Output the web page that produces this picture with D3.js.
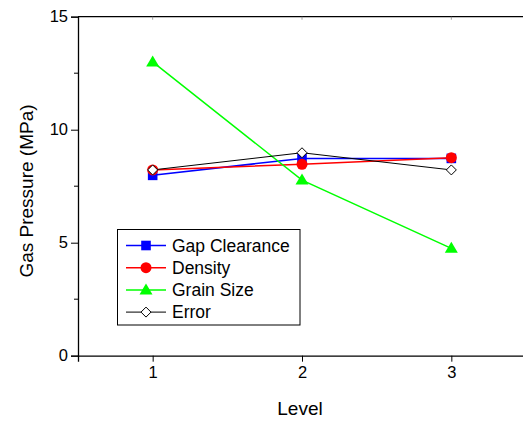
<!DOCTYPE html>
<html>
<head>
<meta charset="utf-8">
<script src="https://cdn.jsdelivr.net/npm/d3@7"></script>
<style>
  body { margin: 0; background: #fff; }
  svg { display: block; font-family: Arial, "Liberation Sans", sans-serif; }
</style>
</head>
<body>
<svg id="chart" width="523" height="421"></svg>
<script>
const levels = [1, 2, 3];
const gapClearance = [7.98, 8.73, 8.73];
const density = [8.22, 8.47, 8.76];
const grainSize = [13.0, 7.77, 4.75];
const errorVals = [8.22, 8.98, 8.22];
const yTicks = [0, 5, 10, 15];

const series = [
  { name: "Gap Clearance", values: gapClearance, color: "#0000ff", shape: "square", width: 1.5 },
  { name: "Density", values: density, color: "#ff0000", shape: "circle", width: 1.5 },
  { name: "Grain Size", values: grainSize, color: "#00ff00", shape: "triangle", width: 1.5 },
  { name: "Error", values: errorVals, color: "#000000", shape: "diamond", width: 1 }
];

const svg = d3.select("#chart");
const x = d3.scaleLinear().domain([0.5, 3.5]).range([78, 526]);
const y = d3.scaleLinear().domain([0, 15]).range([355.7, 16.7]);

// top frame line
svg.append("line").attr("x1", 78).attr("x2", 523).attr("y1", y(15)).attr("y2", y(15))
  .attr("stroke", "#000").attr("stroke-width", 1.3);

// left axis
const yAxis = svg.append("g").attr("transform", "translate(78,0)")
  .call(d3.axisLeft(y).tickValues(yTicks).tickSize(7).tickPadding(3));
yAxis.append("g").selectAll("line").data([2.5, 7.5, 12.5]).enter().append("line")
  .attr("x1", -4).attr("x2", 0).attr("y1", d => y(d)).attr("y2", d => y(d))
  .attr("stroke", "#000");

// bottom axis
const xAxis = svg.append("g").attr("transform", `translate(0,${y(0)})`)
  .call(d3.axisBottom(x).tickValues(levels).tickFormat(d3.format("d")).tickSize(6).tickPadding(5));

// top ticks (inward)
svg.append("g").selectAll("line").data(levels).enter().append("line")
  .attr("x1", d => x(d)).attr("x2", d => x(d)).attr("y1", y(15)).attr("y2", y(15) + 3)
  .attr("stroke", "#888").attr("stroke-width", 0.8);

[yAxis, xAxis].forEach(a => {
  a.select(".domain").attr("stroke-width", 1.3);
  a.selectAll(".tick text").attr("font-size", 16.5).attr("font-family", "Arial, 'Liberation Sans', sans-serif").attr("fill", "#000");
});

// axis titles
svg.append("text").attr("x", 300).attr("y", 415).attr("text-anchor", "middle")
  .attr("font-size", 19).text("Level");
svg.append("text").attr("transform", "translate(33,191) rotate(-90)").attr("text-anchor", "middle")
  .attr("font-size", 19).text("Gas Pressure (MPa)");

function marker(g, shape, color, cx, cy) {
  if (shape === "square") {
    g.append("rect").attr("x", cx - 4.8).attr("y", cy - 4.8).attr("width", 9.6).attr("height", 9.6).attr("fill", color);
  } else if (shape === "circle") {
    g.append("circle").attr("cx", cx).attr("cy", cy).attr("r", 5.5).attr("fill", color);
  } else if (shape === "triangle") {
    g.append("path").attr("d", `M${cx},${cy - 6.5}L${cx + 6.5},${cy + 4.5}L${cx - 6.5},${cy + 4.5}Z`).attr("fill", color);
  } else {
    g.append("path").attr("d", `M${cx},${cy - 5}L${cx + 5},${cy}L${cx},${cy + 5}L${cx - 5},${cy}Z`)
      .attr("fill", "#fff").attr("stroke", "#000").attr("stroke-width", 1);
  }
}

const line = d3.line().x((d, i) => x(levels[i])).y(d => y(d));
series.forEach(s => {
  const g = svg.append("g");
  g.append("path").datum(s.values).attr("d", line).attr("fill", "none")
    .attr("stroke", s.color).attr("stroke-width", s.width);
  s.values.forEach((v, i) => marker(g, s.shape, s.color, x(levels[i]), y(v)));
});

// legend
const lg = svg.append("g");
lg.append("rect").attr("x", 117.5).attr("y", 229.5).attr("width", 182.5).attr("height", 95.5)
  .attr("fill", "#fff").attr("stroke", "#000").attr("stroke-width", 1);
series.forEach((s, i) => {
  const ly = 245.5 + i * 22.2;
  lg.append("line").attr("x1", 126).attr("x2", 166).attr("y1", ly).attr("y2", ly)
    .attr("stroke", s.color).attr("stroke-width", s.width);
  marker(lg, s.shape, s.color, 146, ly);
  lg.append("text").attr("x", 172).attr("y", ly + 6).attr("font-size", 17.5).text(s.name);
});
</script>
</body>
</html>
